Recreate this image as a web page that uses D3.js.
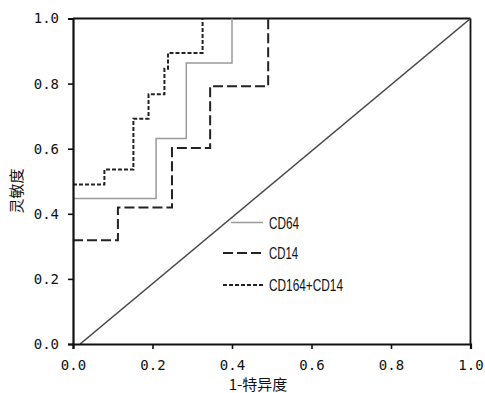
<!DOCTYPE html>
<html>
<head>
<meta charset="utf-8">
<script src="https://cdn.jsdelivr.net/npm/d3@7"></script>
<style>
  body { margin: 0; background: #fff; }
  svg { display: block; }
</style>
</head>
<body>
<script>
// ROC step points (1-specificity, sensitivity)
const fprCD64 = [0, 0.209, 0.285, 0.40];
const tprCD64 = [0.447, 0.631, 0.863, 1.0];
const fprCD14 = [0, 0.113, 0.249, 0.345, 0.491];
const tprCD14 = [0.319, 0.419, 0.602, 0.792, 1.0];
const fprCombo = [0, 0.079, 0.152, 0.19, 0.23, 0.239, 0.326];
const tprCombo = [0.49, 0.536, 0.692, 0.767, 0.846, 0.894, 1.0];
const refLine = [[0.018, 0], [1, 1]];
const tickValues = [0, 0.2, 0.4, 0.6, 0.8, 1.0];
const seriesNames = ['CD64', 'CD14', 'CD164+CD14'];

var width = 485, height = 393;
var svg = d3.select('body').append('svg')
  .attr('width', width)
  .attr('height', height);

let x = d3.scaleLinear().domain([0, 1]).range([73, 470.5]);
let y = d3.scaleLinear().domain([0, 1]).range([344, 18.5]);

const zip = (xs, ys) => xs.map((v, i) => [v, ys[i]]);

// frame top/right
svg.append('line')
  .attr('x1', x(0)).attr('x2', x(1))
  .attr('y1', y(1)).attr('y2', y(1))
  .style('stroke', '#111').style('stroke-width', 1.8);
svg.append('line')
  .attr('x1', x(1)).attr('x2', x(1))
  .attr('y1', y(1)).attr('y2', y(0))
  .style('stroke', '#111').style('stroke-width', 1.8);

// diagonal
let line = d3.line().x(d => x(d[0])).y(d => y(d[1]));
svg.append('path')
  .attr('d', line(refLine))
  .style('fill', 'none')
  .style('stroke', '#444')
  .style('stroke-width', 1.6);

let stepLine = d3.line().x(d => x(d[0])).y(d => y(d[1])).curve(d3.curveStepAfter);

const styles = [
  { stroke: '#9a9a9a', width: 1.5, dash: null },
  { stroke: '#222', width: 2, dash: '10,4' },
  { stroke: '#222', width: 2, dash: '4,2' }
];
const series = [zip(fprCD64, tprCD64), zip(fprCD14, tprCD14), zip(fprCombo, tprCombo)];

series.forEach((s, i) => {
  svg.append('path')
    .attr('d', stepLine(s))
    .style('fill', 'none')
    .style('stroke', styles[i].stroke)
    .style('stroke-width', styles[i].width)
    .style('stroke-dasharray', styles[i].dash);
});

// axes
let xAxis = d3.axisBottom(x).tickValues(tickValues).tickSize(5).tickPadding(11)
  .tickFormat(d3.format('.1f'));
let yAxis = d3.axisLeft(y).tickValues(tickValues).tickSize(5).tickPadding(9)
  .tickFormat(d3.format('.1f'));

let gx = svg.append('g').attr('transform', `translate(0, ${y(0)})`).call(xAxis);
let gy = svg.append('g').attr('transform', `translate(${x(0)}, 0)`).call(yAxis);

[gx, gy].forEach(g => {
  g.select('.domain').style('stroke', '#111').style('stroke-width', 2.2);
  g.selectAll('.tick line').style('stroke', '#111').style('stroke-width', 1.6);
  g.selectAll('.tick text')
    .style('font-family', '"DejaVu Sans Mono", "Liberation Mono", monospace')
    .style('font-size', '14px')
    .style('fill', '#111');
});

// axis titles
svg.append('text')
  .attr('transform', 'translate(15, 191) rotate(-90)')
  .style('text-anchor', 'middle')
  .style('dominant-baseline', 'central')
  .style('font-family', '"Noto Sans CJK SC", sans-serif')
  .style('font-size', '15px')
  .style('fill', '#111')
  .text('灵敏度');

svg.append('text')
  .attr('x', 258)
  .attr('y', 383)
  .style('text-anchor', 'middle')
  .style('dominant-baseline', 'central')
  .style('font-family', '"Noto Sans CJK SC", sans-serif')
  .style('font-size', '15px')
  .style('fill', '#111')
  .text('1-特异度');

// legend
const legendY = [222.5, 253, 285];
const legendX1 = [231, 223, 223];
const legendLen = [30, 29, 74];

seriesNames.forEach((name, i) => {
  svg.append('line')
    .attr('x1', legendX1[i]).attr('x2', 263)
    .attr('y1', legendY[i]).attr('y2', legendY[i])
    .style('stroke', styles[i].stroke)
    .style('stroke-width', styles[i].width)
    .style('stroke-dasharray', styles[i].dash);
  svg.append('text')
    .attr('x', 269)
    .attr('y', legendY[i] + 6)
    .attr('textLength', legendLen[i])
    .attr('lengthAdjust', 'spacingAndGlyphs')
    .style('font-family', '"Liberation Sans", Arial, sans-serif')
    .style('font-size', '16px')
    .style('fill', '#111')
    .text(name);
});
</script>
</body>
</html>
